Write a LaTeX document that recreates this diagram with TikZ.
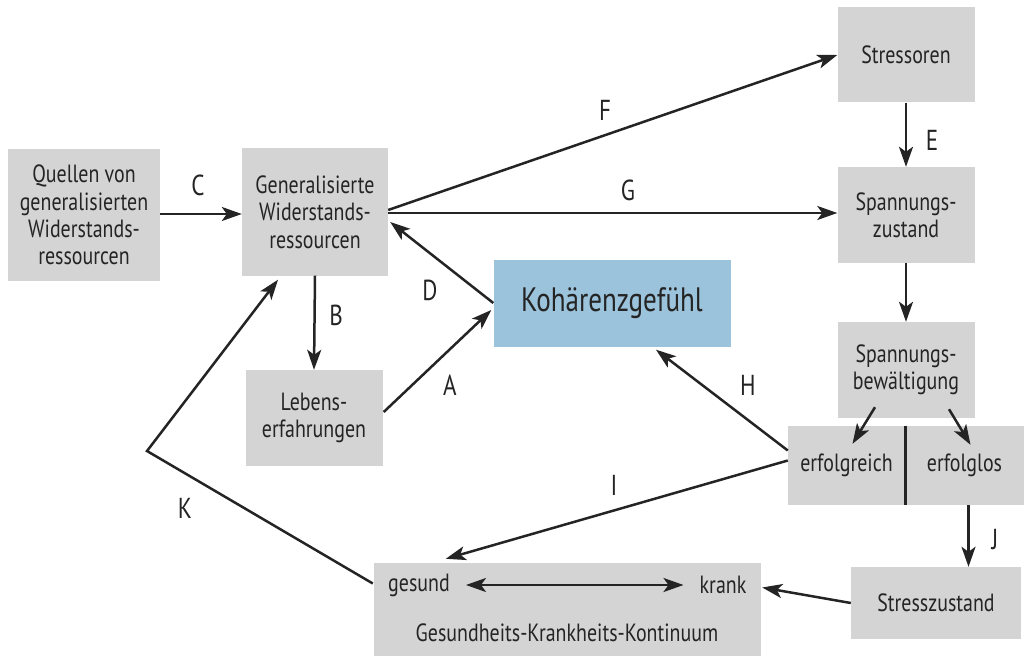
\documentclass[tikz,border=0pt]{standalone}
\usepackage{fontspec}
\setmainfont[FakeStretch=0.8]{PT Sans}
\usetikzlibrary{arrows.meta,positioning,calc}

\definecolor{boxgray}{HTML}{D4D4D4}
\definecolor{kohblue}{HTML}{9CC3DC}
\definecolor{ink}{HTML}{242424}

\begin{document}
\begin{tikzpicture}[x=1bp,y=-1bp,>={Stealth[length=20bp,width=14bp,inset=5bp]},
  box/.style={fill=boxgray,align=center,inner sep=0pt,text=ink,font=\fontsize{25}{27.5}\selectfont},
  txt/.style={text=ink,inner sep=0pt,font=\fontsize{25}{27.5}\selectfont},
  lbl/.style={text=ink,font=\fontsize{29}{32}\selectfont},
  arrow/.style={->,line width=2.5bp,draw=ink}]
\useasboundingbox (0,0) rectangle (1029,656);

% boxes
\node[box,minimum width=152bp,minimum height=132bp] (q) at (84,215) {Quellen von\\generalisierten\\Widerstands-\\ressourcen};
\node[box,minimum width=146bp,minimum height=127bp] (gw) at (315,212) {Generalisierte\\Widerstands-\\ressourcen};
\node[box,minimum width=137bp,minimum height=96bp] (lb) at (314,418) {Lebens-\\erfahrungen};
\node[box,fill=kohblue,minimum width=237bp,minimum height=87bp,font=\fontsize{34}{36}\selectfont] (koh) at (612,303) {Kohärenzgefühl};
\node[box,minimum width=137bp,minimum height=95bp] (so) at (906,55) {Stressoren};
\node[box,minimum width=137bp,minimum height=96bp] (sz) at (906,215) {Spannungs-\\zustand};
\node[box,minimum width=137bp,minimum height=96bp] (sb) at (906,370) {Spannungs-\\bewältigung};
\node[box,minimum width=117bp,minimum height=79bp] (er) at (846.5,465.5) {erfolgreich};
\node[box,minimum width=119bp,minimum height=79bp] (el) at (964.5,465.5) {erfolglos};
\node[box,minimum width=170bp,minimum height=72bp] (st) at (936,603) {Stresszustand};
\node[box,minimum width=387bp,minimum height=93bp] (kont) at (567.5,609.5) {};
\node[txt] (ges) at (419,585) {gesund};
\node[txt] (kr) at (723,585) {krank};
\node[txt] (kk) at (567,633) {Gesundheits-Krankheits-Kontinuum};
\draw[ink,line width=3bp] (er.north east) -- (er.south east);

% connectors
\coordinate (kbend) at (147,451);
\coordinate (j1) at ($(el.south)+(4,0)$);
\draw[arrow] (q.east |- 0,214) -- (gw.west |- 0,214);
\draw[arrow] ($(gw.east)+(0,-2)$) -- (so.west);
\draw[arrow] (gw.east |- 0,213) -- (sz.west |- 0,213);
\draw[arrow] (koh.west) -- ($(gw.east)+(2,10)$);
\draw[arrow] (gw.south) -- (lb.north);
\draw[arrow] ($(lb.east)+(1,-6)$) -- ($(koh.west)+(-2,7)$);
\draw[arrow] (so.south) -- (sz.north);
\draw[arrow] (sz.south) -- (sb.north);
\draw[arrow] ($(sb.south)+(-31,-11)$) -- ($(er.north)+(6,18)$);
\draw[arrow] ($(sb.south)+(43,-9)$) -- ($(el.north)+(6,19)$);
\draw[arrow] ($(er.west)+(0,-15)$) -- ($(koh.south)+(44,3)$);
\draw[arrow] ($(er.west)+(0,-5)$) -- ($(kont.north west)+(72,-4)$);
\draw[arrow] (j1) -- (j1 |- st.north);
\draw[arrow] (st.west) -- ($(kont.east)+(1,-22)$);
\draw[arrow,<->] ([xshift=16bp]ges.east) -- ([xshift=-16bp]kr.west);
\draw[arrow] ($(kont.west)+(-1,-26)$) -- (kbend) -- ($(gw.south)+(-37,4)$);

% labels
\node[lbl] (lC) at (198,185) {C};
\node[lbl] (lF) at (605,110) {F};
\node[lbl] (lG) at (628,190) {G};
\node[lbl] (lD) at (430,290) {D};
\node[lbl] (lB) at (336,315) {B};
\node[lbl] (lA) at (450,385) {A};
\node[lbl] (lE) at (932,140) {E};
\node[lbl] (lH) at (748,385) {H};
\node[lbl] (lI) at (614,485) {I};
\node[lbl] (lJ) at (995,540) {J};
\node[lbl] (lK) at (185,508) {K};
\end{tikzpicture}
\end{document}
